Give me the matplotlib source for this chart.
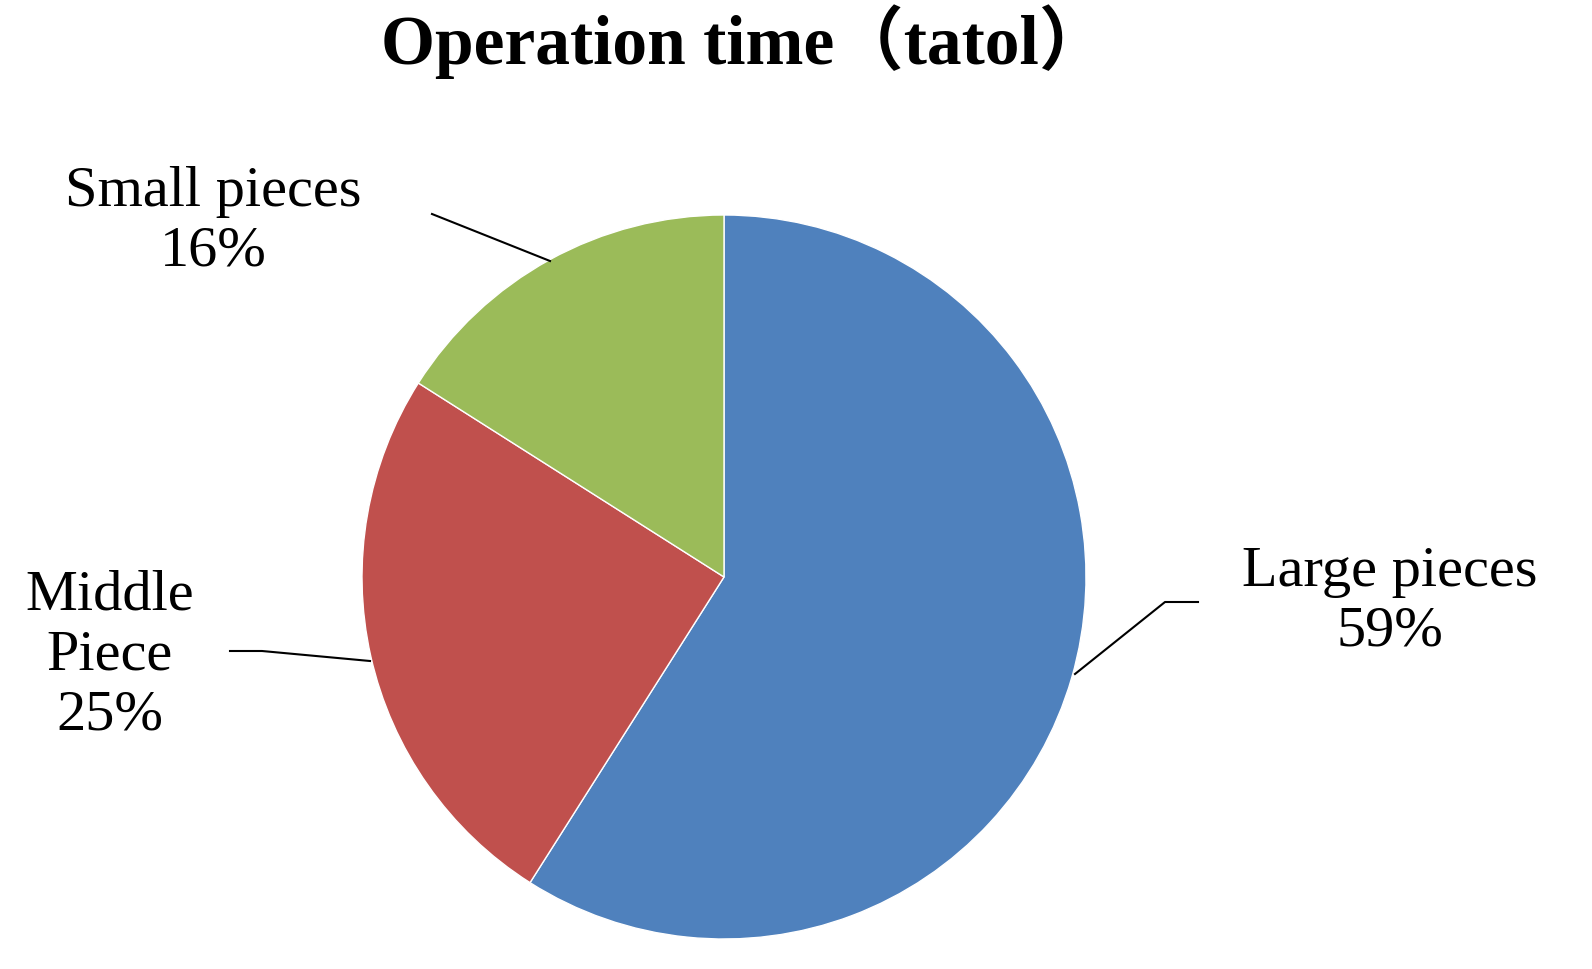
import matplotlib.pyplot as plt

labels = ["Large pieces", "Middle\nPiece", "Small pieces"]
values = [59, 25, 16]
colors = ["#4f81bd", "#c0504d", "#9bbb59"]

plt.rcParams['font.family'] = ['Liberation Serif', 'Noto Sans CJK SC']

fig = plt.figure(figsize=(15.92, 9.7), dpi=100)
ax = fig.add_axes([0, 0, 1, 1])
ax.set_aspect('equal')
ax.axis('off')

ax.pie(values, colors=colors, startangle=90, counterclock=False,
       center=(724, 392), radius=362,
       wedgeprops=dict(edgecolor='white', linewidth=1))
ax.set_xlim(0, 1592)
ax.set_ylim(0, 970)

fs = 42
# labels with leader lines
ax.text(1390, 368, f"{labels[0]}\n{values[0]}%", ha='center', va='center',
        fontsize=fs, linespacing=1.2)
ax.plot([1198, 1165, 1075], [367, 367, 295], color='black', lw=1.5)

ax.text(110, 315, f"{labels[1]}\n{values[1]}%", ha='center', va='center',
        fontsize=fs, linespacing=1.2)
ax.plot([230, 262, 370], [318, 318, 308], color='black', lw=1.5)

ax.text(213, 748, f"{labels[2]}\n{values[2]}%", ha='center', va='center',
        fontsize=fs, linespacing=1.2)
ax.plot([432, 550], [755, 708], color='black', lw=1.5)

ax.text(745, 928, "Operation time（tatol）", ha='center', va='center',
        fontsize=50, fontweight='bold')

fig.savefig("out.png", dpi=100)
